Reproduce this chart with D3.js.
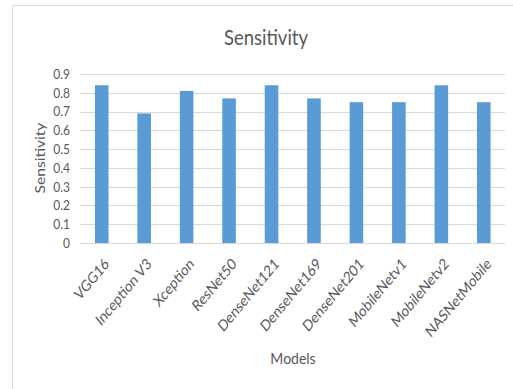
<!DOCTYPE html>
<html>
<head>
<meta charset="utf-8">
<script src="https://cdn.jsdelivr.net/npm/d3@7"></script>
<style>
  body { margin: 0; background: #fff; }
  text { font-family: Lato, "Open Sans", sans-serif; fill: #595959; }
</style>
</head>
<body>
<div id="chart"></div>
<script>
var models = ["VGG16", "Inception V3", "Xception", "ResNet50", "DenseNet121",
              "DenseNet169", "DenseNet201", "MobileNetv1", "MobileNetv2", "NASNetMobile"];
var sensitivity = [0.84, 0.69, 0.81, 0.77, 0.84, 0.77, 0.75, 0.75, 0.84, 0.75];
var yTicks = [0, 0.1, 0.2, 0.3, 0.4, 0.5, 0.6, 0.7, 0.8, 0.9];

function init() {
  var w = 513;
  var h = 389;
  var margin = {top: 74, right: 8, bottom: 146, left: 80.5};

  var svg = d3.select("#chart")
      .append("svg")
      .attr("width", w)
      .attr("height", h);

  // chart frame (only top and left edges are visible in the crop)
  svg.append("path")
      .attr("d", "M12.5," + h + "V5.5H" + w)
      .attr("fill", "none")
      .attr("stroke", "#d9d9d9")
      .attr("stroke-width", 1);

  var x = d3.scaleBand()
      .domain(models)
      .range([margin.left, w - margin.right])
      .paddingInner(0.68)
      .paddingOuter(0.34);

  var y = d3.scaleLinear()
      .domain([0, 0.9])
      .range([h - margin.bottom, margin.top]);

  // gridlines
  svg.append("g")
      .selectAll("line")
      .data(yTicks)
      .enter()
      .append("line")
      .attr("x1", margin.left)
      .attr("x2", w - margin.right)
      .attr("y1", function(d) { return Math.round(y(d)) + 0.5; })
      .attr("y2", function(d) { return Math.round(y(d)) + 0.5; })
      .attr("stroke", "#d9d9d9");

  // y tick labels
  svg.append("g")
      .selectAll("text")
      .data(yTicks)
      .enter()
      .append("text")
      .attr("transform", function(d) { return "translate(70," + y(d) + ") scale(1,1.15)"; })
      .attr("dy", "0.35em")
      .attr("text-anchor", "end")
      .style("font-size", "12px")
      .text(function(d) { return d === 0 ? "0" : d3.format(".1f")(d); });

  // bars
  svg.append("g")
      .selectAll("rect")
      .data(sensitivity)
      .enter()
      .append("rect")
      .attr("x", function(d, i) { return x(models[i]); })
      .attr("y", function(d) { return y(d); })
      .attr("width", x.bandwidth())
      .attr("height", function(d) { return y(0) - y(d); })
      .attr("fill", "#5b9bd5");

  // x labels, rotated (the original picture is slightly stretched vertically)
  svg.append("g")
      .selectAll("text")
      .data(models)
      .enter()
      .append("text")
      .attr("transform", function(d) {
        return "translate(" + (x(d) + x.bandwidth() / 2 + 5) + "," + (y(0) + 18) + ") scale(1,1.2) rotate(-45)";
      })
      .attr("text-anchor", "end")
      .attr("dy", "0.35em")
      .style("font-size", "13px")
      .text(function(d) { return d; });

  // title
  svg.append("text")
      .attr("transform", "translate(266,45) scale(1,1.15)")
      .attr("text-anchor", "middle")
      .style("font-size", "18.5px")
      .text("Sensitivity");

  // axis titles
  svg.append("text")
      .attr("transform", "translate(45,158) scale(1,1.2) rotate(-90)")
      .attr("text-anchor", "middle")
      .style("font-size", "13px")
      .text("Sensitivity");

  svg.append("text")
      .attr("transform", "translate(293,364) scale(1,1.15)")
      .attr("text-anchor", "middle")
      .style("font-size", "14px")
      .text("Models");
}

window.onload = init;
</script>
</body>
</html>
